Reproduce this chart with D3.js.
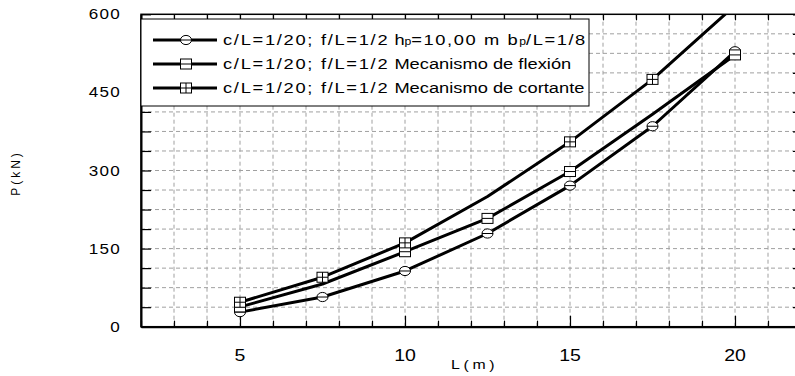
<!DOCTYPE html>
<html>
<head>
<meta charset="utf-8">
<script src="https://cdn.jsdelivr.net/npm/d3@7"></script>
<style>
  html, body { margin: 0; padding: 0; background: #fff; }
  svg { display: block; font-family: "Liberation Sans", Arial, sans-serif; }
</style>
</head>
<body>
<div class="app"></div>
<script>
// Data
const spans = [5, 7.5, 10, 12.5, 15, 17.5, 20];
const pHp10 = [28, 57, 107, 179, 271, 385, 529];
const pFlexion = [38, 82, 144, 208, 298, 408, 522];
const pCortante = [47, 95, 161, 250, 355, 475, 617];
// which points carry a visible marker in the picture
const markFlexion = [1, 0, 1, 1, 1, 0, 1];
const markCortante = [1, 1, 1, 0, 1, 1, 0];
const yTickLabels = [0, 150, 300, 450, 600];
const xTickLabels = [5, 10, 15, 20];
const legendLabels = [
  { lead: 'c/L=1/20; f/L=1/2', tail: 'hp' },
  { lead: 'c/L=1/20; f/L=1/2', tail: 'Mecanismo de flexión' },
  { lead: 'c/L=1/20; f/L=1/2', tail: 'Mecanismo de cortante' }
];

// Setup
const width = 795, height = 376;
const svg = d3.select('.app')
  .append('svg')
  .attr('width', width)
  .attr('height', height);

const x = d3.scaleLinear().domain([2, 22]).range([141, 801]);
const y = d3.scaleLinear().domain([0, 600]).range([326.7, 14.3]);
const SX = 1.22; // text in the picture is stretched sideways

svg.append('defs').append('clipPath').attr('id', 'plot')
  .append('rect')
  .attr('x', x(2)).attr('y', y(600))
  .attr('width', x(22) - x(2)).attr('height', y(0) - y(600));

// Grid
const xMinor = d3.range(3, 22, 1);
const yMinor = d3.range(37.5, 600, 37.5);
const grid = svg.append('g')
  .attr('stroke', '#a0a0a0')
  .attr('stroke-width', 1)
  .attr('stroke-dasharray', '4,3');
grid.selectAll('line.v').data(xMinor).join('line')
  .attr('class', 'v')
  .attr('x1', d => x(d)).attr('x2', d => x(d))
  .attr('y1', y(0)).attr('y2', y(600));
grid.selectAll('line.h').data(yMinor).join('line')
  .attr('class', 'h')
  .attr('x1', x(2)).attr('x2', x(22))
  .attr('y1', d => y(d)).attr('y2', d => y(d));

// Axes (ticks point inward on all four sides)
svg.append('g')
  .attr('transform', `translate(0,${y(0)})`)
  .call(d3.axisBottom(x).tickValues(d3.range(2, 23)).tickSizeInner(-6).tickSizeOuter(0).tickFormat(''))
  .call(g => g.selectAll('.tick line').filter(d => d % 5 === 0).attr('y2', -11));
svg.append('g')
  .attr('transform', `translate(0,${y(600)})`)
  .call(d3.axisTop(x).tickValues(d3.range(2, 23)).tickSizeInner(-6).tickSizeOuter(0).tickFormat(''))
  .call(g => g.select('.domain').remove());
svg.append('g')
  .attr('transform', `translate(${x(2)},0)`)
  .call(d3.axisLeft(y).tickValues(d3.range(0, 601, 37.5)).tickSizeInner(-10).tickSizeOuter(0).tickFormat(''));
svg.append('g')
  .attr('transform', `translate(${x(22)},0)`)
  .call(d3.axisRight(y).tickValues(d3.range(0, 601, 37.5)).tickSizeInner(-8).tickSizeOuter(0).tickFormat(''));
svg.selectAll('.domain').attr('stroke', '#000').attr('stroke-width', 2);
svg.selectAll('.tick line').attr('stroke', '#000').attr('stroke-width', 1.2);

// frame
svg.append('rect')
  .attr('x', x(2)).attr('y', y(600))
  .attr('width', x(22) - x(2)).attr('height', y(0) - y(600))
  .attr('fill', 'none').attr('stroke', '#000').attr('stroke-width', 1.5);

// Tick labels
svg.append('g').selectAll('g').data(yTickLabels).join('g')
  .attr('transform', d => `translate(121,${y(d)}) scale(${SX},1)`)
  .append('text')
  .attr('text-anchor', 'end')
  .attr('dy', '0.36em')
  .attr('font-size', 14)
  .attr('letter-spacing', 1)
  .text(d => d);
svg.append('g').selectAll('g').data(xTickLabels).join('g')
  .attr('transform', d => `translate(${x(d)},355) scale(${SX},1)`)
  .append('text')
  .attr('text-anchor', 'middle')
  .attr('dy', '0.36em')
  .attr('font-size', 16)
  .text(d => d);

// Axis titles
svg.append('text')
  .attr('transform', 'translate(20,173) rotate(-90)')
  .attr('text-anchor', 'middle')
  .attr('font-size', 12)
  .attr('letter-spacing', 3)
  .text('P(kN)');
svg.append('g')
  .attr('transform', `translate(451,369) scale(${SX},1)`)
  .append('text')
  .attr('font-size', 13)
  .attr('letter-spacing', 3)
  .text('L(m)');

// Markers
function drawMarker(g, kind) {
  if (kind === 'circle') {
    g.append('ellipse').attr('rx', 5.5).attr('ry', 4.6)
      .attr('fill', '#fff').attr('stroke', '#000').attr('stroke-width', 1);
    g.append('line').attr('x1', -5.5).attr('x2', 5.5).attr('stroke', '#000').attr('stroke-width', 1);
  } else {
    g.append('rect').attr('x', -5.5).attr('y', -5).attr('width', 11).attr('height', 10)
      .attr('fill', '#fff').attr('stroke', '#000').attr('stroke-width', 1);
    g.append('line').attr('x1', -5.5).attr('x2', 5.5).attr('stroke', '#000').attr('stroke-width', 1);
    if (kind === 'cross') {
      g.append('line').attr('y1', -5).attr('y2', 5).attr('stroke', '#000').attr('stroke-width', 1);
    }
  }
}

const series = [
  { values: pHp10, marks: spans.map(() => 1), kind: 'circle' },
  { values: pFlexion, marks: markFlexion, kind: 'square' },
  { values: pCortante, marks: markCortante, kind: 'cross' }
];

const line = d3.line().x(d => x(d[0])).y(d => y(d[1]));
const gPlot = svg.append('g').attr('clip-path', 'url(#plot)');

series.forEach(s => {
  const pts = spans.map((L, i) => [L, s.values[i], s.marks[i]]);
  gPlot.append('path')
    .attr('d', line(pts))
    .attr('fill', 'none')
    .attr('stroke', '#000')
    .attr('stroke-width', 3)
    .attr('stroke-linejoin', 'round');
  gPlot.selectAll(null)
    .data(pts.filter(p => p[2] && p[1] <= 600))
    .join('g')
    .attr('transform', d => `translate(${x(d[0])},${y(d[1])})`)
    .each(function () { drawMarker(d3.select(this), s.kind); });
});

// Legend
const legend = svg.append('g');
legend.append('rect')
  .attr('x', x(2)).attr('y', 19)
  .attr('width', 589 - x(2)).attr('height', 87)
  .attr('fill', '#fff').attr('stroke', '#000').attr('stroke-width', 1);

const rowY = [40, 64, 88];
const kinds = ['circle', 'square', 'cross'];
legendLabels.forEach((lab, i) => {
  const row = legend.append('g').attr('transform', `translate(0,${rowY[i]})`);
  row.append('line').attr('x1', 153).attr('x2', 217)
    .attr('stroke', '#000').attr('stroke-width', 3);
  drawMarker(row.append('g').attr('transform', 'translate(186,0)'), kinds[i]);

  const t = row.append('g').attr('transform', `translate(223,0) scale(${SX},1)`)
    .append('text')
    .attr('font-size', 15)
    .attr('dy', '0.36em');
  t.append('tspan').attr('letter-spacing', 1.4).text(lab.lead);
  if (lab.tail === 'hp') {
    t.append('tspan').text(' h');
    t.append('tspan').attr('font-size', 10).text('p');
    t.append('tspan').attr('letter-spacing', 1.3).text('=10,00 m b');
    t.append('tspan').attr('font-size', 10).text('p');
    t.append('tspan').attr('letter-spacing', 1.3).text('/L=1/8');
  } else {
    t.append('tspan').text(' ' + lab.tail);
  }
});
</script>
</body>
</html>
